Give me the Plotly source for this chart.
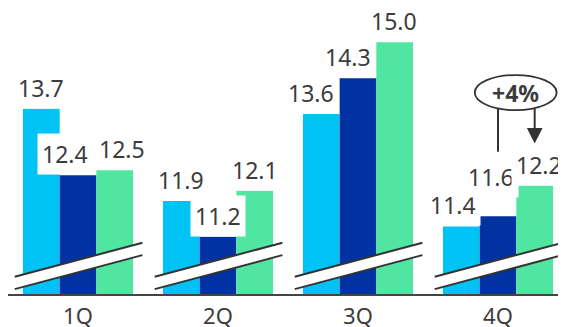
import plotly.graph_objects as go

quarters = ["1Q", "2Q", "3Q", "4Q"]
series_a = [13.7, 11.9, 13.6, 11.4]   # light blue
series_b = [12.4, 11.2, 14.3, 11.6]   # dark blue
series_c = [12.5, 12.1, 15.0, 12.2]   # green
change_label = "+4%"

colors = ["#00C3F5", "#0033A1", "#50E5A0"]
text_color = "#3c3c3c"
font_family = "Noto Sans, Open Sans, sans-serif"

BARGAP = 0.214
BW = (1 - BARGAP) / 3
Y_RANGE = [10.08, 15.672]

xs = list(range(len(quarters)))
fig = go.Figure()
for vals, col in zip([series_a, series_b, series_c], colors):
    fig.add_trace(go.Bar(x=xs, y=vals, marker=dict(color=col, line=dict(width=0)),
                         hoverinfo="skip"))

# label nudges (pixels) per [quarter][series]
xshift = [[0, -13, 7], [0, 0, 0], [-10, -10, -1], [-8, -7, 4]]
yshift = [[0, 0, 0], [0, 0, 0], [0, 0, 0], [0, 18, 0]]

annotations = []
for j, vals in enumerate([series_a, series_b, series_c]):
    for i, v in enumerate(vals):
        annotations.append(dict(
            x=i + (j - 1) * BW, y=v, xref="x", yref="y", text=f"{v:.1f}",
            showarrow=False, yanchor="bottom", xanchor="center",
            xshift=xshift[i][j], yshift=yshift[i][j],
            bgcolor="white", borderpad=4,
            font=dict(size=23, color=text_color, family=font_family)))

shapes = []
# axis-break strips
for i in xs:
    x0, x1 = i - 0.452, i + 0.46
    lo0, lo1, up0, up1 = 10.175, 10.840, 10.416, 11.081
    shapes.append(dict(type="path", xref="x", yref="y",
                       path=f"M {x0},{lo0} L {x1},{lo1} L {x1},{up1} L {x0},{up0} Z",
                       fillcolor="white", line=dict(width=0)))
    for a, b in [(lo0, lo1), (up0, up1)]:
        shapes.append(dict(type="line", xref="x", yref="y", x0=x0, y0=a, x1=x1, y1=b,
                           line=dict(color="#333333", width=2)))

# +4% callout
g = 3
shapes.append(dict(type="circle", xref="x", yref="y",
                   x0=g - 0.166, x1=g + 0.419, y0=13.674, y1=14.361,
                   line=dict(color="#333333", width=1.8), fillcolor="white"))
shapes.append(dict(type="line", xref="x", yref="y", x0=g, x1=g, y0=13.712, y1=12.861,
                   line=dict(color="#333333", width=2)))
gx = g + BW
shapes.append(dict(type="line", xref="x", yref="y", x0=gx, x1=gx, y0=13.712, y1=13.30,
                   line=dict(color="#333333", width=2)))
shapes.append(dict(type="path", xref="x", yref="y",
                   path=f"M {gx-0.056},13.325 L {gx+0.056},13.325 L {gx},13.025 Z",
                   fillcolor="#333333", line=dict(width=0)))
annotations.append(dict(x=g + 0.1265, y=14.018, xref="x", yref="y", text=f"<b>{change_label}</b>",
                        showarrow=False, xanchor="center", yanchor="middle",
                        font=dict(size=23, color=text_color, family=font_family)))

fig.update_layout(
    width=558, height=319,
    margin=dict(l=0, r=0, t=0, b=33, autoexpand=False),
    barmode="group", bargap=BARGAP, bargroupgap=0,
    plot_bgcolor="white", paper_bgcolor="white",
    showlegend=False,
    annotations=annotations, shapes=shapes,
    xaxis=dict(range=[-0.5, 3.4857], tickvals=xs, ticktext=quarters,
               automargin=False,
               showline=True, linecolor="#444444", linewidth=2,
               showgrid=False, zeroline=False, ticks="", ticklabelstandoff=2,
               tickfont=dict(size=22, color=text_color, family=font_family)),
    yaxis=dict(range=Y_RANGE, visible=False, showgrid=False, zeroline=False,
               automargin=False),
)

fig.write_html("out.html")
